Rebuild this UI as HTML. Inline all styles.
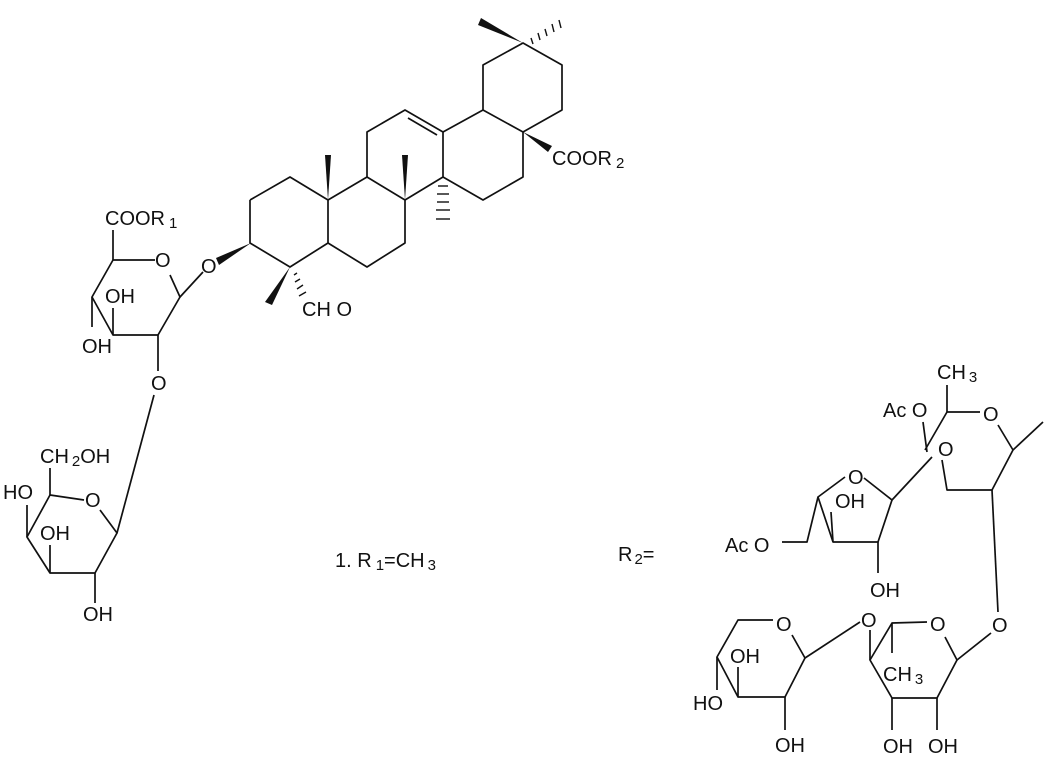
<!DOCTYPE html>
<html><head><meta charset="utf-8"><style>
html,body{margin:0;padding:0;background:#fff;}
svg{display:block;}
text{font-family:"Liberation Sans",sans-serif;font-size:20px;fill:#111;}
.s{font-size:15px;}
</style></head><body>
<svg width="1050" height="776" viewBox="0 0 1050 776" xmlns="http://www.w3.org/2000/svg">
<g stroke="#111" stroke-width="1.7" fill="none" stroke-linejoin="round">
<polyline points="250,200 290,177 328,200 328,243 290,267 250,243 250,200"/>
<polyline points="328,200 367,177 405,200 405,243 367,267 328,243"/>
<polyline points="367,177 367,132 405,110 443,132 443,177 405,200"/>
<line x1="408" y1="118" x2="437" y2="135"/>
<polyline points="443,132 483,110 523,132 523,177 483,200 443,177"/>
<polyline points="483,110 483,65 523,43 562,65 562,110 523,132"/>
<g stroke-width="1.4">
<line x1="438" y1="186" x2="448" y2="186"/><line x1="437" y1="194" x2="449" y2="194"/><line x1="437" y1="202" x2="449" y2="202"/><line x1="436" y1="210" x2="450" y2="210"/><line x1="436" y1="219" x2="450" y2="219"/>
<line x1="531" y1="38" x2="533" y2="44"/><line x1="538" y1="33" x2="540" y2="40"/><line x1="545" y1="29" x2="547" y2="36"/><line x1="552" y1="24" x2="554" y2="32"/><line x1="559" y1="20" x2="561" y2="28"/>
<line x1="294" y1="275" x2="297" y2="273"/><line x1="295" y1="282" x2="300" y2="279"/><line x1="297" y1="289" x2="303" y2="285"/><line x1="299" y1="296" x2="306" y2="292"/>
</g>
<polyline points="155,260 113,260 92,297 113,335 158,335 180,297 170,275"/>
<line x1="113" y1="260" x2="113" y2="230"/>
<line x1="180" y1="297" x2="203" y2="272"/>
<line x1="113" y1="335" x2="113" y2="308"/>
<line x1="92" y1="297" x2="92" y2="327"/>
<line x1="158" y1="335" x2="158" y2="371"/>
<line x1="154" y1="395" x2="117" y2="533"/>
<polyline points="84,500 50,495 27,537 50,573 95,573 117,533 100,510"/>
<line x1="50" y1="495" x2="50" y2="468"/>
<line x1="27" y1="537" x2="27" y2="505"/>
<line x1="50" y1="573" x2="50" y2="545"/>
<line x1="95" y1="573" x2="95" y2="603"/>
<polyline points="980,412 947,412 925,450"/>
<line x1="947" y1="412" x2="947" y2="385"/>
<line x1="998" y1="425" x2="1013" y2="450"/>
<line x1="1013" y1="450" x2="1043" y2="422"/>
<polyline points="1013,450 992,490 947,490 942,460"/>
<line x1="923" y1="422" x2="927" y2="452"/>
<line x1="932" y1="457" x2="892" y2="500"/>
<line x1="992" y1="490" x2="998" y2="612"/>
<polyline points="864,478 892,500 878,542 833,542 818,497 845,477"/>
<polyline points="818,497 807,542 782,542"/>
<line x1="833" y1="542" x2="831" y2="512"/>
<line x1="878" y1="542" x2="878" y2="573"/>
<polyline points="927,622 892,623 870,660 892,698 937,698 957,660 945,637"/>
<line x1="957" y1="660" x2="991" y2="633"/>
<line x1="892" y1="623" x2="892" y2="653"/>
<line x1="892" y1="698" x2="892" y2="730"/>
<line x1="937" y1="698" x2="937" y2="730"/>
<line x1="870" y1="660" x2="870" y2="630"/>
<line x1="860" y1="622" x2="805" y2="658"/>
<polyline points="773,620 738,620 717,657 738,697 785,697 805,658 792,635"/>
<line x1="738" y1="697" x2="738" y2="667"/>
<line x1="717" y1="657" x2="717" y2="690"/>
<line x1="785" y1="697" x2="785" y2="730"/>
</g>
<g fill="#111">
<polygon points="328,200 325,155 331,155"/>
<polygon points="405,200 402,155 408,155"/>
<polygon points="523,43 481,18 478,25"/>
<polygon points="523,132 552,146 548,152"/>
<polygon points="251,243 216,258 219,265"/>
<polygon points="290,267 265,302 272,305"/>
</g>
<text x="552" y="165">COOR<tspan class="s" dx="4" dy="3">2</tspan></text>
<text x="302" y="316">CH O</text>
<text x="105" y="225">COOR<tspan class="s" dx="4" dy="3">1</tspan></text>
<text x="201" y="273">O</text>
<text x="155" y="267">O</text>
<text x="105" y="303">OH</text>
<text x="82" y="353">OH</text>
<text x="151" y="390">O</text>
<text x="40" y="463">CH<tspan class="s" dx="3" dy="3">2</tspan><tspan dy="-3">OH</tspan></text>
<text x="3" y="499">HO</text>
<text x="85" y="507">O</text>
<text x="40" y="540">OH</text>
<text x="83" y="621">OH</text>
<text x="335" y="567">1. R<tspan class="s" dx="4" dy="3">1</tspan><tspan dy="-3">=CH</tspan><tspan class="s" dx="3" dy="3">3</tspan></text>
<text x="618" y="561">R<tspan class="s" dx="2" dy="3">2</tspan><tspan dy="-3">=</tspan></text>
<text x="937" y="379">CH<tspan class="s" dx="3" dy="3">3</tspan></text>
<text x="883" y="417">Ac O</text>
<text x="983" y="421">O</text>
<text x="938" y="456">O</text>
<text x="848" y="484">O</text>
<text x="835" y="508">OH</text>
<text x="725" y="552">Ac O</text>
<text x="870" y="597">OH</text>
<text x="992" y="632">O</text>
<text x="930" y="631">O</text>
<text x="861" y="627">O</text>
<text x="776" y="631">O</text>
<text x="883" y="681">CH<tspan class="s" dx="3" dy="3">3</tspan></text>
<text x="730" y="663">OH</text>
<text x="693" y="710">HO</text>
<text x="775" y="752">OH</text>
<text x="883" y="753">OH</text>
<text x="928" y="753">OH</text>
</svg>
</body></html>
